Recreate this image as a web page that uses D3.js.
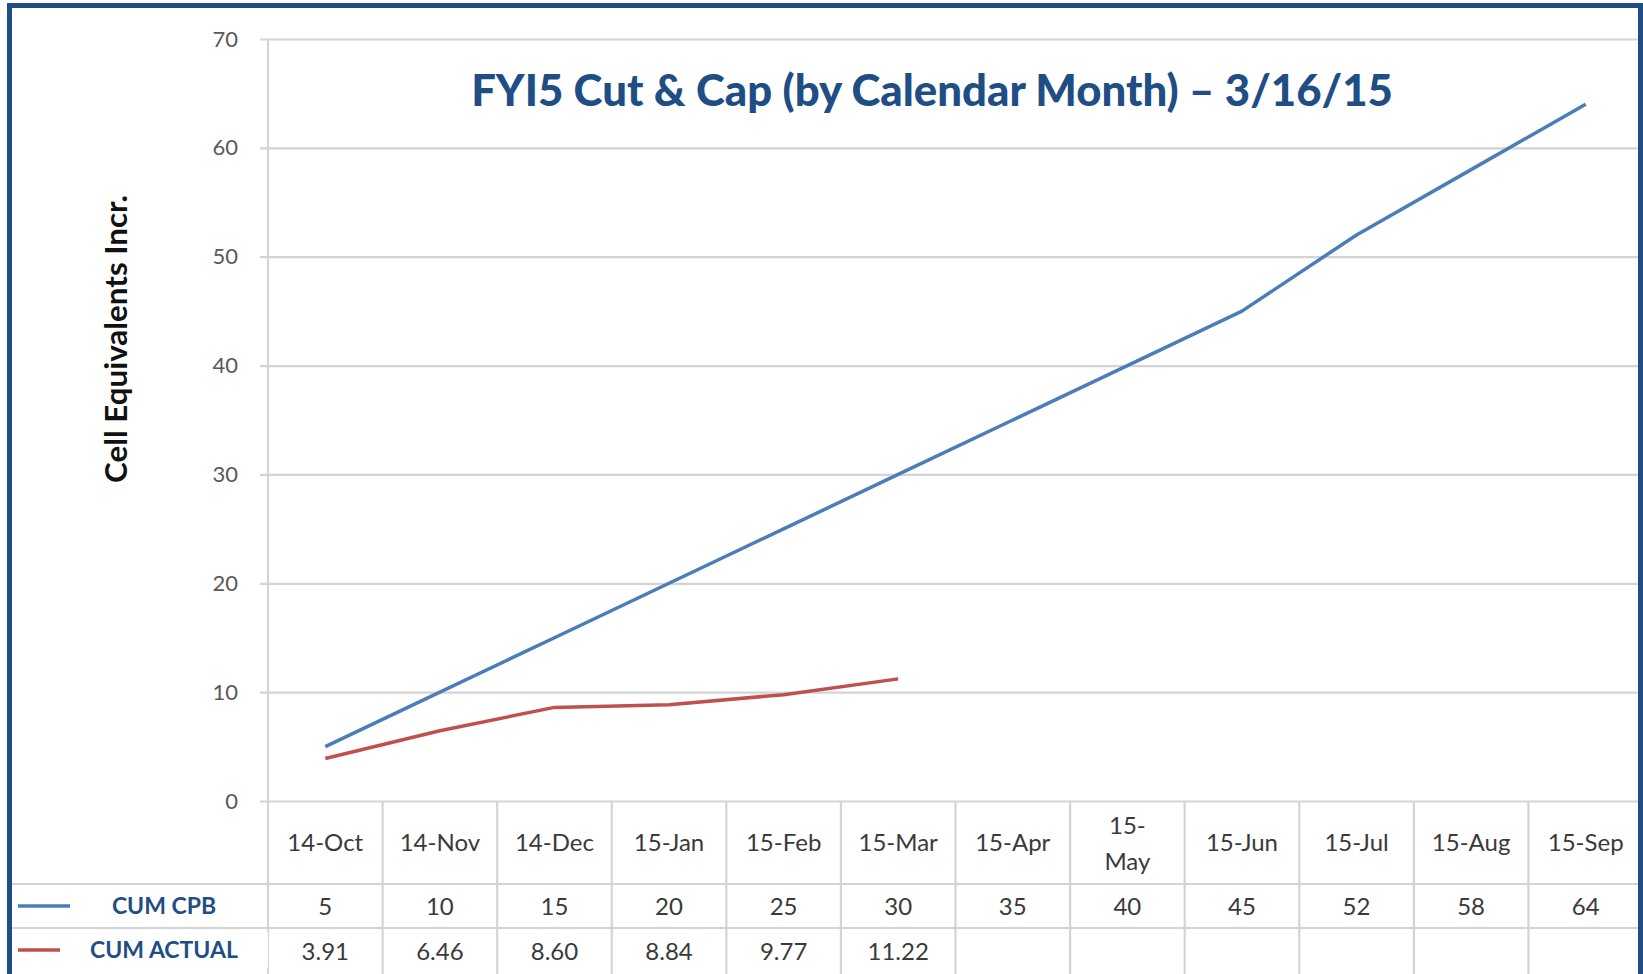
<!DOCTYPE html>
<html>
<head>
<meta charset="utf-8">
<script src="https://cdn.jsdelivr.net/npm/d3@7"></script>
<style>
  html, body { margin: 0; padding: 0; background: #fff; }
  svg { display: block; font-family: Lato, "Open Sans", sans-serif; }
</style>
</head>
<body>
<svg width="1643" height="974"></svg>
<script>
      const months = ['14-Oct', '14-Nov', '14-Dec', '15-Jan', '15-Feb', '15-Mar',
                      '15-Apr', '15-May', '15-Jun', '15-Jul', '15-Aug', '15-Sep'];
      const cumCpb = [5, 10, 15, 20, 25, 30, 35, 40, 45, 52, 58, 64];
      const cumActual = [3.91, 6.46, 8.60, 8.84, 9.77, 11.22];
      const actualLabels = ['3.91', '6.46', '8.60', '8.84', '9.77', '11.22'];
      const yTicks = [0, 10, 20, 30, 40, 50, 60, 70];
      const titleText = 'FYI5 Cut & Cap (by Calendar Month) \u2013 3/16/15';
      const yLabel = 'Cell Equivalents Incr.';

      const svg = d3.select('svg');
      const width = +svg.attr('width');
      const height = +svg.attr('height');
      const margin = { left: 268, right: 0, top: 39, bottom: 173 };
      const plotBottom = height - margin.bottom;   // y of value 0
      const row1 = 884, row2 = 928;

      const xScale = d3.scaleBand()
        .domain(months)
        .range([margin.left, width - margin.right]);
      const xMid = m => xScale(m) + xScale.bandwidth() / 2;

      const yScale = d3.scaleLinear()
        .domain([0, 70])
        .range([plotBottom, margin.top]);

      const gridColor = '#d4d4d4';

      // horizontal gridlines via axis
      const yAxis = d3.axisLeft(yScale)
        .tickValues(yTicks)
        .tickSize(-(width - margin.left + 8))
        .tickPadding(22);
      const yAxisG = svg.append('g')
        .attr('transform', `translate(${margin.left - 8},0)`)
        .call(yAxis);
      yAxisG.select('.domain').remove();
      yAxisG.selectAll('.tick line')
        .attr('stroke', gridColor).attr('stroke-width', 2.2);
      yAxisG.selectAll('.tick text')
        .attr('fill', '#595959')
        .attr('font-size', 22)
        .attr('font-family', 'Lato, sans-serif');

      // table grid
      const tableG = svg.append('g');
      tableG.append('line')
        .attr('x1', margin.left).attr('x2', margin.left)
        .attr('y1', margin.top).attr('y2', height)
        .attr('stroke', gridColor).attr('stroke-width', 2.2);
      tableG.selectAll('line.col').data(months)
        .enter().append('line')
          .attr('class', 'col')
          .attr('x1', d => xScale(d) + xScale.bandwidth())
          .attr('x2', d => xScale(d) + xScale.bandwidth())
          .attr('y1', plotBottom).attr('y2', height)
          .attr('stroke', gridColor).attr('stroke-width', 2.2);
      [row1, row2].forEach(y => {
        tableG.append('line')
          .attr('x1', 10).attr('x2', width)
          .attr('y1', y).attr('y2', y)
          .attr('stroke', gridColor).attr('stroke-width', 2.2);
      });

      const cellText = (sel, yPos) => sel
        .attr('text-anchor', 'middle')
        .attr('fill', '#3a3a3a')
        .attr('font-size', 24)
        .attr('y', yPos);

      // header row
      months.forEach(m => {
        if (m === '15-May') {
          cellText(tableG.append('text'), 834).attr('x', xMid(m)).text('15-');
          cellText(tableG.append('text'), 870).attr('x', xMid(m)).text('May');
        } else {
          cellText(tableG.append('text'), 851).attr('x', xMid(m)).text(m);
        }
      });
      tableG.selectAll('text.cpb').data(cumCpb)
        .enter().append('text')
          .attr('class', 'cpb')
          .call(cellText, 915)
          .attr('x', (d, i) => xMid(months[i]))
          .text(d => d);
      tableG.selectAll('text.act').data(actualLabels)
        .enter().append('text')
          .attr('class', 'act')
          .call(cellText, 960)
          .attr('x', (d, i) => xMid(months[i]))
          .text(d => d);

      // legend keys in table rows
      const legend = [
        { name: 'CUM CPB', color: '#4a7ebb', y: 906, x2: 70, box: [72, 262] },
        { name: 'CUM ACTUAL', color: '#c0504d', y: 950, x2: 60, box: [62, 268] }
      ];
      legend.forEach(l => {
        svg.append('rect')
          .attr('x', l.box[0]).attr('y', l.y - 20)
          .attr('width', l.box[1] - l.box[0]).attr('height', 40)
          .attr('rx', 4)
          .attr('fill', '#fff');
        svg.append('line')
          .attr('x1', 18).attr('x2', l.x2)
          .attr('y1', l.y).attr('y2', l.y)
          .attr('stroke', l.color).attr('stroke-width', 3.5);
        svg.append('text')
          .attr('x', 164).attr('y', l.y + 8)
          .attr('text-anchor', 'middle')
          .attr('font-weight', 'bold')
          .attr('font-size', 23)
          .attr('fill', '#1f4e85')
          .text(l.name);
      });

      // series lines
      const line = d3.line()
        .x((d, i) => xMid(months[i]))
        .y(d => yScale(d));
      svg.append('path')
        .datum(cumCpb)
        .attr('d', line)
        .attr('fill', 'none')
        .attr('stroke', '#4a7ebb')
        .attr('stroke-width', 3.5)
        .attr('stroke-linejoin', 'round');
      svg.append('path')
        .datum(cumActual)
        .attr('d', line)
        .attr('fill', 'none')
        .attr('stroke', '#c0504d')
        .attr('stroke-width', 3.5)
        .attr('stroke-linejoin', 'round');

      // title
      const title = svg.append('text')
        .attr('x', 932).attr('y', 106)
        .attr('text-anchor', 'middle')
        .attr('font-weight', 900)
        .attr('font-size', 44)
        .attr('fill', '#1f4e85')
        .text(titleText);
      const tw = title.node().getComputedTextLength();
      title.attr('font-size', 44 * 922 / tw);

      // y axis label
      const yl = svg.append('text')
        .attr('transform', 'translate(127,339) rotate(-90)')
        .attr('text-anchor', 'middle')
        .attr('font-weight', 'bold')
        .attr('font-size', 26)
        .attr('fill', '#111')
        .text(yLabel);
      const yw = yl.node().getComputedTextLength();
      yl.attr('font-size', 26 * 288 / yw);

      // frame
      svg.append('path')
        .attr('d', `M9.5,${height} V5.5 H1640.5 V${height}`)
        .attr('fill', 'none')
        .attr('stroke', '#1f4e85')
        .attr('stroke-width', 5);
</script>
</body>
</html>
